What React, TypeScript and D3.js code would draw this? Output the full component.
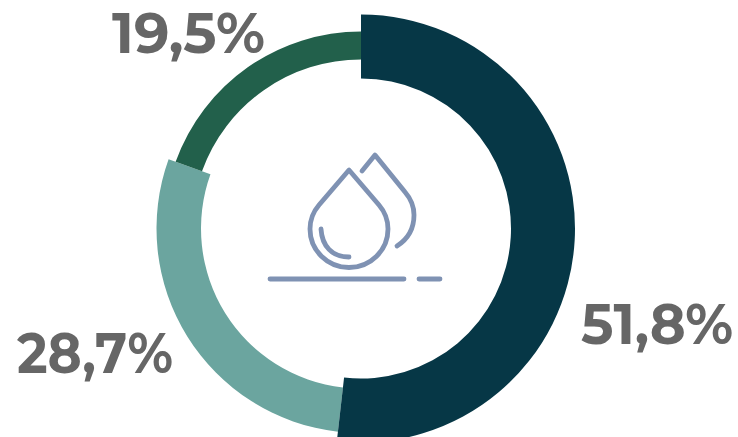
import React from "react";
import * as d3 from "d3";

const labels = ["51,8%", "28,7%", "19,5%"];
const values = [51.8, 28.7, 19.5];
const colors = ["#063746", "#6ba59f", "#22604b"];
const outerRadii = [214, 204.5, 197];
const innerRadii = [150, 160, 169];

const cx = 361;
const cy = 228.5;

export default function App() {
  const pie = d3.pie<number>().sort(null)(values);
  const label = { fontFamily: "Montserrat, Inter, 'Open Sans', sans-serif", fontWeight: 700, fontSize: 57, fill: "#666666", lengthAdjust: "spacingAndGlyphs" } as const;
  return (
    <svg width={738} height={437} style={{ position: "absolute", left: 0, top: 0 }}>
      {[1, 2, 0].map((i) => (
        <path
          key={i}
          transform={`translate(${cx},${cy})`}
          fill={colors[i]}
          d={d3.arc<any>().innerRadius(innerRadii[i]).outerRadius(outerRadii[i])(pie[i]) || ""}
        />
      ))}
      <text x={581} y={343.5} textLength={152} {...label}>{labels[0]}</text>
      <text x={17} y={373} textLength={156} {...label}>{labels[1]}</text>
      <text x={112} y={53} textLength={153} {...label}>{labels[2]}</text>
      <g fill="none" stroke="#7f92b3" strokeWidth={4.8} strokeLinecap="round" strokeLinejoin="round">
        <path d="M349 170 L319 205 C313 212 310 220 310 229 A39 38.5 0 0 0 388 229 C388 220 385 212 379 205 Z" />
        <path d="M321 229 C322 246 332 257 349 257" />
        <path d="M362 171 L375 155 L405 192 C411 199 414 207 414 215 C414 228 408 239 397 246" />
        <path d="M270 279 L404 279" />
        <path d="M419 279 L440 279" />
      </g>
    </svg>
  );
}
